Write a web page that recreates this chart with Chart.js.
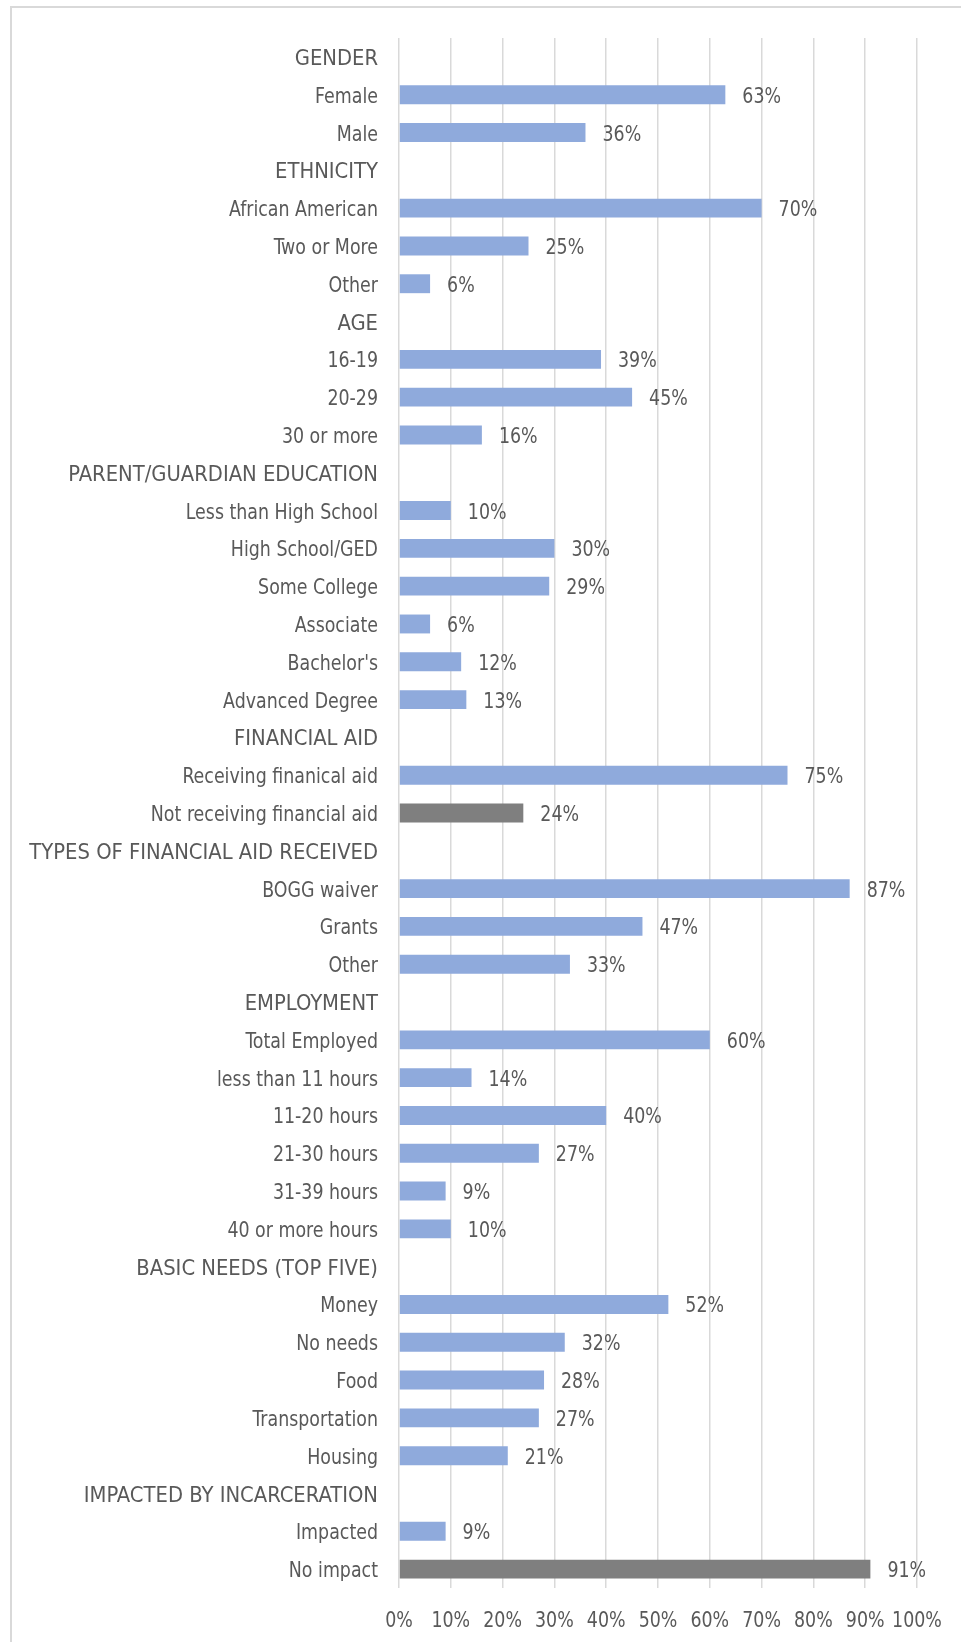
<!DOCTYPE html>
<html>
<head>
<meta charset="utf-8">
<script src="https://cdn.jsdelivr.net/npm/chart.js@4.4.1/dist/chart.umd.min.js"></script>
<style>
  html, body { margin: 0; padding: 0; background: #fff; overflow: hidden; }
  #frame {
    position: absolute; left: 10px; top: 6px; width: 960px; height: 1660px;
    border: 2px solid #d9d9d9; box-sizing: border-box;
  }
  #wrap { position: absolute; left: 0; top: 0; width: 961px; height: 1642px; }
</style>
</head>
<body>
<div id="frame"></div>
<div id="wrap"><canvas id="chart10"></canvas></div>
<script>
// rows of the chart, top to bottom (headers have no value)
const categorias = [
  'GENDER', 'Female', 'Male',
  'ETHNICITY', 'African American', 'Two or More', 'Other',
  'AGE', '16-19', '20-29', '30 or more',
  'PARENT/GUARDIAN EDUCATION', 'Less than High School', 'High School/GED', 'Some College',
  'Associate', "Bachelor's", 'Advanced Degree',
  'FINANCIAL AID', 'Receiving finanical aid', 'Not receiving financial aid',
  'TYPES OF FINANCIAL AID RECEIVED', 'BOGG waiver', 'Grants', 'Other',
  'EMPLOYMENT', 'Total Employed', 'less than 11 hours', '11-20 hours', '21-30 hours',
  '31-39 hours', '40 or more hours',
  'BASIC NEEDS (TOP FIVE)', 'Money', 'No needs', 'Food', 'Transportation', 'Housing',
  'IMPACTED BY INCARCERATION', 'Impacted', 'No impact'
];
const porcentajes = [
  null, 63, 36,
  null, 70, 25, 6,
  null, 39, 45, 16,
  null, 10, 30, 29,
  6, 12, 13,
  null, 75, 24,
  null, 87, 47, 33,
  null, 60, 14, 40, 27,
  9, 10,
  null, 52, 32, 28, 27, 21,
  null, 9, 91
];
// rows drawn in gray instead of blue
const filasGrises = [20, 40];
const ticksX = [0, 10, 20, 30, 40, 50, 60, 70, 80, 90, 100];

const fuente = '"DejaVu Sans Condensed", "Liberation Sans Narrow", sans-serif';
const tamFuente = 22;
const grisTexto = '#595959';

const colores = porcentajes.map((v, i) => filasGrises.includes(i) ? '#7f7f7f' : '#8faadc');

// squeeze lowercase text more than all-caps headers to look like a narrow face
function textoEstrecho(ctx, txt, x, yCentro, align) {
  const esMayus = txt === txt.toUpperCase() && /[A-Z]/.test(txt);
  ctx.save();
  ctx.translate(x, yCentro + tamFuente * 0.729 / 2);
  ctx.scale(esMayus ? 0.99 : 0.88, 1);
  ctx.textAlign = align;
  ctx.textBaseline = 'alphabetic';
  ctx.fillText(txt, 0, 0);
  ctx.restore();
}

// all text: category labels, value labels, x tick labels
const textos = {
  id: 'textos',
  afterDraw(chart) {
    const ctx = chart.ctx;
    const sy = chart.scales.y;
    const sx = chart.scales.x;
    const area = chart.chartArea;
    const meta = chart.getDatasetMeta(0);
    ctx.save();
    ctx.font = tamFuente + 'px ' + fuente;
    ctx.fillStyle = grisTexto;
    categorias.forEach((c, i) => {
      textoEstrecho(ctx, c, area.left - 21, sy.getPixelForTick(i), 'right');
    });
    meta.data.forEach((bar, i) => {
      const v = porcentajes[i];
      if (v === null) return;
      textoEstrecho(ctx, v + '%', bar.x + 17, bar.y, 'left');
    });
    ticksX.forEach(v => {
      textoEstrecho(ctx, v + '%', sx.getPixelForValue(v), area.bottom + 31, 'center');
    });
    ctx.restore();
  }
};

const ctx_demo = document.getElementById('chart10').getContext('2d');
new Chart(ctx_demo, {
  type: 'bar',
  data: {
    labels: categorias,
    datasets: [{
      data: porcentajes,
      backgroundColor: colores,
      borderWidth: 0,
      categoryPercentage: 1,
      barPercentage: 0.5
    }]
  },
  plugins: [textos],
  options: {
    indexAxis: 'y',
    responsive: true,
    maintainAspectRatio: false,
    animation: false,
    layout: { padding: { top: 38, right: 44, left: 0, bottom: 0 } },
    plugins: {
      legend: { display: false },
      title: { display: false },
      tooltip: { enabled: false }
    },
    scales: {
      x: {
        min: 0,
        max: 100,
        afterBuildTicks: (scale) => { scale.ticks = ticksX.map(v => ({ value: v })); },
        afterFit: (scale) => { scale.height = 54; },
        border: { display: false },
        grid: { color: '#d9d9d9', lineWidth: 1.5, drawTicks: false },
        ticks: { display: false }
      },
      y: {
        afterFit: (scale) => { scale.width = 399; },
        border: { display: false },
        grid: { display: false, drawTicks: false },
        ticks: { display: false }
      }
    }
  }
});
</script>
</body>
</html>
